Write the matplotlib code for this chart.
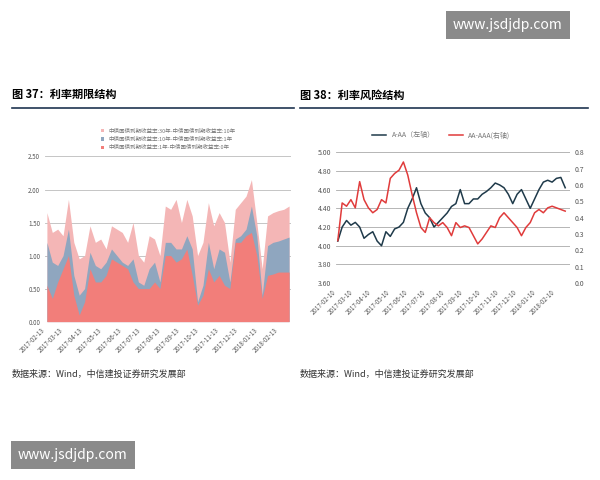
import matplotlib
matplotlib.use("Agg")
import matplotlib.pyplot as plt
import matplotlib.dates as mdates
import pandas as pd
import numpy as np

plt.rcParams['font.family'] = ['Noto Sans CJK SC', 'DejaVu Sans']

# Left chart data (spread levels)
top_pink = [1.65,1.35,1.4,1.3,1.85,1.2,0.95,1.0,1.45,1.2,1.25,1.1,1.45,1.4,1.35,1.2,1.5,1.0,0.9,1.3,1.25,1.0,1.75,1.7,1.85,1.5,1.85,1.6,1.0,1.2,1.8,1.45,1.65,1.5,0.9,1.7,1.8,1.9,2.15,1.5,0.8,1.6,1.65,1.68,1.7,1.75]
mid_blue = [1.2,0.9,0.85,1.0,1.4,0.7,0.4,0.5,1.05,0.85,0.8,0.9,1.1,1.0,0.9,0.85,0.95,0.6,0.55,0.8,0.9,0.6,1.2,1.2,1.1,1.1,1.3,1.1,0.3,0.55,1.2,0.8,1.1,1.05,0.6,1.25,1.3,1.4,1.75,1.3,0.4,1.15,1.2,1.22,1.25,1.28]
low_coral = [0.55,0.35,0.6,0.8,1.0,0.4,0.1,0.3,0.8,0.6,0.6,0.7,0.95,0.9,0.85,0.8,0.6,0.5,0.5,0.5,0.6,0.5,1.0,1.0,0.9,0.95,1.1,0.7,0.25,0.4,0.8,0.6,0.7,0.55,0.5,1.2,1.2,1.3,1.35,1.0,0.35,0.7,0.72,0.75,0.75,0.75]
left_labels = ["中债国债到期收益率:30年-中债国债到期收益率:10年",
               "中债国债到期收益率:10年-中债国债到期收益率:1年",
               "中债国债到期收益率:1年-中债国债到期收益率:0年"]
left_ticks = pd.date_range("2017-02-13", periods=13, freq=pd.DateOffset(months=1))

# Right chart data
a_aa = [4.05,4.2,4.27,4.22,4.25,4.2,4.08,4.12,4.15,4.05,4.0,4.15,4.1,4.18,4.2,4.25,4.4,4.5,4.62,4.45,4.35,4.3,4.2,4.25,4.3,4.35,4.42,4.45,4.6,4.45,4.45,4.5,4.5,4.55,4.58,4.62,4.67,4.65,4.62,4.55,4.45,4.55,4.6,4.5,4.4,4.5,4.6,4.68,4.7,4.68,4.72,4.73,4.62]
aa_aaa = [0.26,0.49,0.47,0.51,0.46,0.62,0.51,0.46,0.43,0.45,0.51,0.49,0.64,0.67,0.69,0.74,0.66,0.54,0.43,0.34,0.31,0.40,0.37,0.35,0.37,0.34,0.29,0.37,0.34,0.35,0.34,0.29,0.24,0.27,0.31,0.35,0.34,0.40,0.43,0.40,0.37,0.34,0.29,0.34,0.37,0.43,0.45,0.43,0.46,0.47,0.46,0.45,0.44]
right_labels = ["A-AA（左轴）", "AA-AAA(右轴)"]
right_ticks = pd.date_range("2017-02-10", periods=13, freq=pd.DateOffset(months=1))

fig = plt.figure(figsize=(6, 4.8), dpi=100)

# Titles and rules
fig.text(0.02, 0.795, "图 37：利率期限结构", fontsize=8, weight='bold')
fig.text(0.5, 0.795, "图 38：利率风险结构", fontsize=8, weight='bold')
fig.add_artist(plt.Line2D([0.02, 0.49], [0.775, 0.775], color='#1f3550', lw=1.2))
fig.add_artist(plt.Line2D([0.5, 0.98], [0.775, 0.775], color='#1f3550', lw=1.2))
fig.text(0.02, 0.215, "数据来源：Wind，中信建投证券研究发展部", fontsize=6.5, style='italic', color='#333')
fig.text(0.5, 0.215, "数据来源：Wind，中信建投证券研究发展部", fontsize=6.5, style='italic', color='#333')

# Left axes
ax = fig.add_axes([0.075, 0.33, 0.41, 0.344])
dl = pd.date_range("2017-02-13", "2018-02-28", periods=len(top_pink))
ax.fill_between(dl, 0, top_pink, color='#f4b6b6', lw=0, label=left_labels[0])
ax.fill_between(dl, 0, mid_blue, color='#8fa6bf', lw=0, label=left_labels[1])
ax.fill_between(dl, 0, low_coral, color='#f27e7a', lw=0, label=left_labels[2])
ax.set_ylim(0, 2.5)
ax.set_yticks(np.arange(0, 2.51, 0.5))
ax.set_yticklabels([f"{v:.2f}" for v in np.arange(0, 2.51, 0.5)], fontsize=4.5, color='#555')
ax.set_xticks(left_ticks)
ax.set_xticklabels([d.strftime("%Y-%m-%d") for d in left_ticks], rotation=45, ha='right', fontsize=4.5, color='#555')
ax.set_xlim(dl[0] - pd.Timedelta(days=3), dl[-1] + pd.Timedelta(days=3))
ax.grid(axis='y', color='#bbb', lw=0.6)
ax.set_axisbelow(True)
for s in ax.spines.values():
    s.set_visible(False)
ax.tick_params(length=0)
ax.legend(loc='lower center', bbox_to_anchor=(0.5, 1.02), fontsize=4, frameon=False, ncol=1,
          handlelength=0.6, labelcolor='#777', borderpad=0, labelspacing=0.6)

# Right axes
ax2 = fig.add_axes([0.56, 0.41, 0.39, 0.273])
dr = pd.date_range("2017-02-10", "2018-02-25", periods=len(a_aa))
l1, = ax2.plot(dr, a_aa, color='#1f3a4a', lw=1.1, label=right_labels[0])
ax2.set_ylim(3.6, 5.0)
ax2.set_yticks(np.arange(3.6, 5.01, 0.2))
ax2.set_yticklabels([f"{v:.2f}" for v in np.arange(3.6, 5.01, 0.2)], fontsize=5, color='#555')
ax2.set_xticks(right_ticks)
ax2.set_xticklabels([d.strftime("%Y-%m-%d") for d in right_ticks], rotation=45, ha='right', fontsize=4.5, color='#555')
ax2.grid(axis='y', color='#aaa', lw=0.6)
for s in ax2.spines.values():
    s.set_visible(False)
ax2.tick_params(length=0)
ax3 = ax2.twinx()
dr2 = pd.date_range("2017-02-10", "2018-02-25", periods=len(aa_aaa))
l2, = ax3.plot(dr2, aa_aaa, color='#e03b3b', lw=1.1, label=right_labels[1])
ax3.set_ylim(0, 0.8)
ax3.set_yticks(np.arange(0, 0.81, 0.1))
ax3.set_yticklabels([f"{v:.1f}" for v in np.arange(0, 0.81, 0.1)], fontsize=5, color='#555')
for s in ax3.spines.values():
    s.set_visible(False)
ax3.tick_params(length=0)
ax2.set_xlim(dr[0] - pd.Timedelta(days=3), dr[-1] + pd.Timedelta(days=8))
ax2.legend([l1, l2], right_labels, loc='lower center', bbox_to_anchor=(0.45, 1.05), ncol=2,
           fontsize=5, frameon=False, labelcolor='#777', handlelength=2)

# Watermarks
fig.text(0.755, 0.948, "www.jsdjdp.com", fontsize=10, color='white', ha='left', va='center',
         bbox=dict(boxstyle='square,pad=0.5', fc='#8a8a8a', ec='none'))
fig.text(0.03, 0.053, "www.jsdjdp.com", fontsize=10, color='white', ha='left', va='center',
         bbox=dict(boxstyle='square,pad=0.5', fc='#8a8a8a', ec='none'))

fig.savefig("out.png", dpi=100, facecolor='white')
